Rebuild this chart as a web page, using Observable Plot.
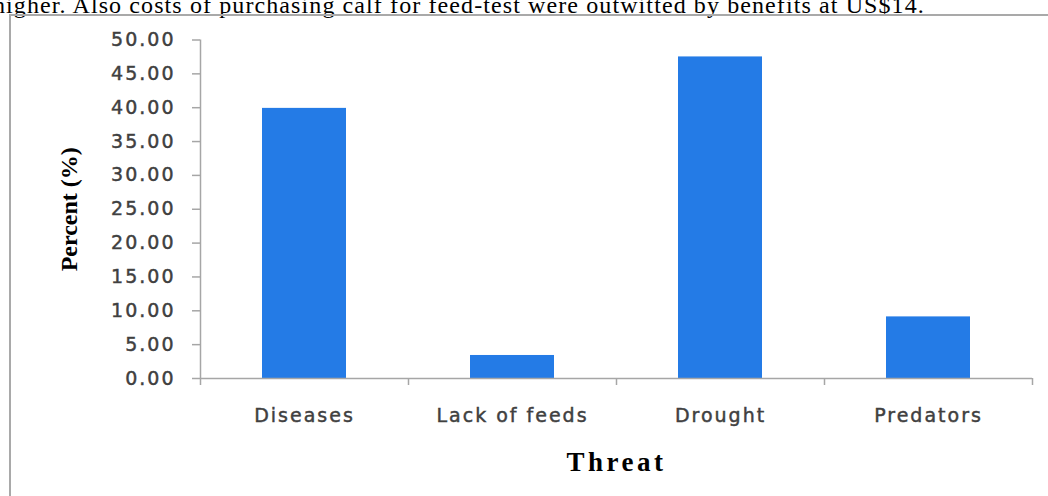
<!DOCTYPE html>
<html>
<head>
<meta charset="utf-8">
<script src="https://cdn.jsdelivr.net/npm/d3@7"></script>
<script src="https://cdn.jsdelivr.net/npm/@observablehq/plot@0.6"></script>
<style>
  html, body { margin: 0; padding: 0; background: white; overflow: hidden; }
  body { position: relative; width: 1048px; height: 496px; }
  #toptext { position: absolute; left: -7px; top: -7px; font-family: "Liberation Serif", serif; font-size: 24px; line-height: 24px; letter-spacing: 1.1px; color: #000; white-space: nowrap; }
  #box { position: absolute; left: 9px; top: 14px; width: 1100px; height: 600px; border: 2px solid #a9a9a9; box-sizing: border-box; }
  #chart { position: absolute; left: 0; top: 0; }
  #chart [aria-label="y-axis tick label"] text, #chart [aria-label="x-axis tick label"] text { letter-spacing: 2px; stroke: #404040; stroke-width: 0.45px; }
</style>
</head>
<body>
<div id="toptext">higher. Also costs of purchasing calf for feed-test were outwitted by benefits at US$14.</div>
<div id="box"></div>
<div id="chart"></div>
<script>
const categories = ["Diseases", "Lack of feeds", "Drought", "Predators"];
const percents = [39.9, 3.4, 47.5, 9.1];
const yTicks = [0, 5, 10, 15, 20, 25, 30, 35, 40, 45, 50];
const yTitle = "Percent (%)";
const xTitle = "Threat";

const data = categories.map((c, i) => ({category: c, value: percents[i], i}));
const boundaries = d3.range(categories.length + 1);
const centers = categories.map((c, i) => i + 0.5);
const axisColor = "#a6a6a6";

const plot = Plot.plot({
  width: 1048,
  height: 496,
  marginLeft: 200,
  marginRight: 16,
  marginTop: 39.5,
  marginBottom: 118,
  style: {background: "transparent", fontFamily: "DejaVu Sans", fontSize: "19px", color: "#404040"},
  x: {domain: [0, categories.length], axis: null},
  y: {domain: [0, 50], axis: null},
  marks: [
    Plot.rectY(data, {x1: "i", x2: d => d.i + 1, y: "value", fill: "#247be6", insetLeft: 62, insetRight: 62}),
    Plot.ruleX([0], {stroke: axisColor, strokeWidth: 1.5}),
    Plot.ruleY([0], {stroke: axisColor, strokeWidth: 1.5}),
    Plot.axisY({ticks: yTicks, tickFormat: d => d.toFixed(2), tickSize: 8, tickPadding: 17, fontSize: 19, stroke: axisColor, strokeWidth: 1.5, fill: "#404040", label: null}),
    Plot.axisX({ticks: boundaries, tickFormat: () => "", tickSize: 7, stroke: axisColor, strokeWidth: 1.5, label: null}),
    Plot.axisX({ticks: centers, tickFormat: d => categories[Math.round(d - 0.5)], tickSize: 0, tickPadding: 30, fontSize: 19, fill: "#404040", label: null}),
    Plot.text([yTitle], {frameAnchor: "left", textAnchor: "middle", lineAnchor: "middle", dx: -131, rotate: -90, fontFamily: "Liberation Serif", fontWeight: "bold", fontSize: 24, fill: "#000"}),
    Plot.text([xTitle], {frameAnchor: "bottom", textAnchor: "middle", lineAnchor: "middle", dy: 84, fontFamily: "Liberation Serif", fontWeight: "bold", fontSize: 27, fill: "#000"})
  ]
});
document.getElementById("chart").appendChild(plot);
d3.select(plot).selectAll('[aria-label="text"] text').filter(function() { return this.textContent === xTitle; }).style("letter-spacing", "3.5px");
</script>
</body>
</html>
